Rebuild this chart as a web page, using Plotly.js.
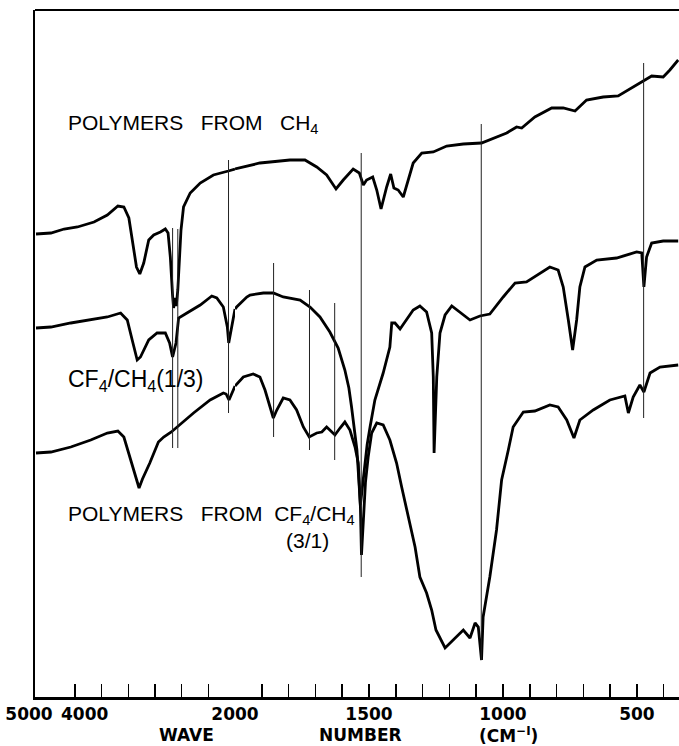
<!DOCTYPE html>
<html><head><meta charset="utf-8">
<script src="https://cdn.plot.ly/plotly-3.0.1.min.js"></script>
<style>html,body{margin:0;padding:0;background:#fff}#chart{width:679px;height:746px}</style>
</head><body><div id="chart"></div>
<script>
// Wavenumber (cm-1) where the chart scale changes
const BREAK = 2000;

// Spectrum 1: polymers from CH4 (pen height, arbitrary units)
const wnCH4 = [4985,4761,4563,4363,4115,3915,3757,3667,3592,3542,3478,3428,3369,3294,3219,3119,3045,3004,2970,2936,2921,2900,2881,2858,2836,2810,2772,2672,2522,2324,2100,2000,1969,1944,1907,1869,1795,1739,1695,1658,1623,1596,1559,1536,1521,1509,1486,1471,1455,1434,1419,1407,1391,1372,1353,1335,1303,1260,1210,1148,1080,1024,986,949,930,881,818,775,731,688,626,570,514,477,445,402,377,346];
const tCH4 = [463,464,468,470,475,482,491,490,479,457,430,423,434,457,462,465,468,464,440,401,389,399,391,407,434,467,490,504,514,522,526,528,530,531,534,535,537,537,530,522,508,517,528,524,512,517,520,507,488,510,523,509,507,500,517,534,544,545,551,553,554,560,564,570,569,580,589,589,586,597,600,601,610,616,621,620,627,637];

// Spectrum 2: CF4/CH4 (1/3)
const wn13 = [4985,4761,4463,4164,3915,3716,3616,3542,3467,3418,3294,3169,3045,2981,2936,2885,2846,2721,2522,2348,2273,2175,2115,2094,2049,2000,1994,1956,1944,1894,1857,1820,1757,1720,1683,1646,1615,1590,1575,1565,1559,1545,1532,1519,1507,1496,1478,1447,1422,1415,1403,1384,1366,1335,1310,1285,1266,1260,1257,1247,1235,1216,1191,1160,1123,1086,1049,999,955,912,862,825,794,775,756,740,725,713,694,650,576,501,482,474,464,445,402,346];
const t13 = [369,370,374,377,380,384,377,357,337,340,357,364,364,354,340,354,379,384,392,401,399,390,370,354,370,388,390,400,402,404,404,400,397,390,380,365,349,327,309,290,278,247,192,227,252,270,297,324,350,374,374,368,375,387,391,385,364,320,244,320,364,382,391,385,377,381,383,400,414,415,424,430,427,410,377,347,377,410,430,437,439,445,444,410,440,454,456,456];

// Spectrum 3: polymers from CF4/CH4 (3/1)
const wn31 = [4985,4761,4463,4164,3915,3757,3667,3567,3478,3439,3388,3278,3149,3070,2955,2870,2622,2373,2175,2134,2090,2025,2000,1969,1932,1907,1888,1869,1857,1844,1820,1795,1770,1745,1723,1695,1676,1658,1627,1608,1590,1571,1552,1540,1532,1528,1522,1513,1503,1490,1471,1447,1422,1397,1378,1353,1328,1310,1285,1266,1250,1216,1185,1148,1123,1104,1092,1080,1074,1049,1024,1005,980,962,924,881,825,794,762,735,713,663,601,545,532,514,489,474,451,414,346];
const t31 = [244,245,250,257,264,266,260,237,217,209,218,234,255,260,265,270,284,297,304,303,297,307,311,320,323,320,307,290,279,287,299,297,287,270,260,264,265,270,262,269,275,267,250,234,190,142,170,215,240,264,274,272,257,234,210,180,150,120,104,87,67,49,57,67,59,74,70,37,80,120,167,217,247,270,285,286,292,290,277,259,277,287,297,301,284,300,312,305,324,330,332];

// Thin vertical band-marker lines: wavenumber, top and bottom pen height
const markWn  = [2936,2858,2097,1856,1722,1628,1529,1081,475];
const markTop = [469,468,537,434,407,394,544,573,634];
const markBot = [249,249,284,260,247,237,120,37,279];

// Axis ticks and labels
const hiTicks = [5000,4400,4000,3600,3200,2800,2400];
const loMajor = [2000,1500,1000,500];

function split(wn, t) {
  const hi = {x: [], y: []}, lo = {x: [], y: []};
  wn.forEach((w, i) => {
    if (w >= BREAK) { hi.x.push(w); hi.y.push(t[i]); }
    if (w <= BREAK) { lo.x.push(w); lo.y.push(t[i]); }
  });
  return [hi, lo];
}

const traces = [];
const lineStyle = {color: '#000', width: 2.8};
[[wnCH4, tCH4], [wn13, t13], [wn31, t31]].forEach(([w, t]) => {
  const [hi, lo] = split(w, t);
  traces.push({type: 'scatter', mode: 'lines', x: hi.x, y: hi.y, xaxis: 'x', yaxis: 'y', line: lineStyle, hoverinfo: 'skip'});
  traces.push({type: 'scatter', mode: 'lines', x: lo.x, y: lo.y, xaxis: 'x2', yaxis: 'y', line: lineStyle, hoverinfo: 'skip'});
});

const mHi = {x: [], y: []}, mLo = {x: [], y: []};
markWn.forEach((w, i) => {
  const tgt = w >= BREAK ? mHi : mLo;
  tgt.x.push(w, w, null);
  tgt.y.push(markTop[i], markBot[i], null);
});
const markStyle = {color: '#222', width: 1};
traces.push({type: 'scatter', mode: 'lines', x: mHi.x, y: mHi.y, xaxis: 'x', yaxis: 'y', line: markStyle, hoverinfo: 'skip', connectgaps: false});
traces.push({type: 'scatter', mode: 'lines', x: mLo.x, y: mLo.y, xaxis: 'x2', yaxis: 'y', line: markStyle, hoverinfo: 'skip', connectgaps: false});
// keeps the label-only overlay axis alive
traces.push({type: 'scatter', mode: 'lines', x: [5000, BREAK], y: [null, null], xaxis: 'x3', yaxis: 'y', hoverinfo: 'skip', showlegend: false});

const tickFont = {family: 'DejaVu Sans', size: 17, color: '#000', weight: 'bold'};
const titleFont = {family: 'DejaVu Sans', size: 17, color: '#000', weight: 'bold'};
const labFont = {family: 'Liberation Sans', size: 21, color: '#000'};
const SPLIT = 200 / 644;
const NB = '\u00A0';

const layout = {
  width: 679, height: 746,
  margin: {l: 35, r: 0, t: 10, b: 49},
  paper_bgcolor: '#fff', plot_bgcolor: '#fff',
  showlegend: false,
  xaxis: {
    domain: [0, SPLIT], range: [5000, BREAK], anchor: 'y',
    showline: true, linewidth: 2.5, linecolor: '#000',
    ticks: 'inside', ticklen: 13, tickwidth: 1.5, tickcolor: '#000',
    tickmode: 'array', tickvals: hiTicks, ticktext: hiTicks.map(v => v === 5000 ? '5000' : ''),
    tickfont: tickFont, ticklabelshift: 6,
    showgrid: false, zeroline: false, fixedrange: true
  },
  xaxis3: {
    domain: [0, SPLIT], range: [5000, BREAK], anchor: 'y', overlaying: 'x',
    showline: true, linewidth: 2.5, linecolor: '#000',
    ticks: 'inside', ticklen: 13, tickwidth: 1.5, tickcolor: 'rgba(0,0,0,0)',
    tickmode: 'array', tickvals: [4000], ticktext: ['4000'],
    tickfont: tickFont, ticklabelshift: 17,
    showgrid: false, zeroline: false, fixedrange: true
  },
  xaxis2: {
    domain: [SPLIT, 1], range: [BREAK, 343], anchor: 'y',
    showline: true, linewidth: 2.5, linecolor: '#000',
    ticks: 'inside', ticklen: 13, tickwidth: 1.5, tickcolor: '#000',
    tickmode: 'array', tickvals: loMajor, ticktext: loMajor.map(String),
    minor: {tick0: 0, dtick: 100, ticks: 'inside', ticklen: 13, tickwidth: 1.5, tickcolor: '#000', showgrid: false},
    tickfont: tickFont,
    showgrid: false, zeroline: false, fixedrange: true
  },
  yaxis: {
    domain: [0, 1], range: [0, 687],
    showline: true, linewidth: 2, linecolor: '#000',
    showticklabels: false, ticks: '', showgrid: false, zeroline: false, fixedrange: true
  },
  shapes: [
    {type: 'line', xref: 'paper', yref: 'paper', x0: 0, x1: 1, y0: 1, y1: 1, line: {color: '#000', width: 2}}
  ],
  annotations: [
    {xref: 'paper', yref: 'paper', x: 0.048, y: 0.834, xanchor: 'left', yanchor: 'middle', showarrow: false, font: labFont,
     text: 'POLYMERS' + NB+NB+NB + 'FROM' + NB+NB+NB + 'CH<sub>4</sub>'},
    {xref: 'paper', yref: 'paper', x: 0.048, y: 0.46, xanchor: 'left', yanchor: 'middle', showarrow: false,
     font: Object.assign({}, labFont, {size: 23}),
     text: 'CF<sub>4</sub>/CH<sub>4</sub>(1/3)'},
    {xref: 'paper', yref: 'paper', x: 0.048, y: 0.265, xanchor: 'left', yanchor: 'middle', showarrow: false, font: labFont,
     text: 'POLYMERS' + NB+NB+NB + 'FROM' + NB+NB + 'CF<sub>4</sub>/CH<sub>4</sub>'},
    {xref: 'paper', yref: 'paper', x: 0.387, y: 0.2285, xanchor: 'left', yanchor: 'middle', showarrow: false, font: labFont,
     text: '(3/1)'},
    {xref: 'paper', yref: 'paper', x: 0.2345, y: -0.0555, xanchor: 'center', yanchor: 'middle', showarrow: false, borderpad: 0, font: titleFont, text: 'WAVE'},
    {xref: 'paper', yref: 'paper', x: 0.5047, y: -0.0555, xanchor: 'center', yanchor: 'middle', showarrow: false, borderpad: 0, font: titleFont, text: 'NUMBER'},
    {xref: 'paper', yref: 'paper', x: 0.736, y: -0.0555, xanchor: 'center', yanchor: 'middle', showarrow: false, borderpad: 0, font: titleFont, text: '(CM<sup>\u2212I</sup>)'}
  ]
};

Plotly.newPlot('chart', traces, layout, {staticPlot: true, displayModeBar: false});
</script>
</body></html>
